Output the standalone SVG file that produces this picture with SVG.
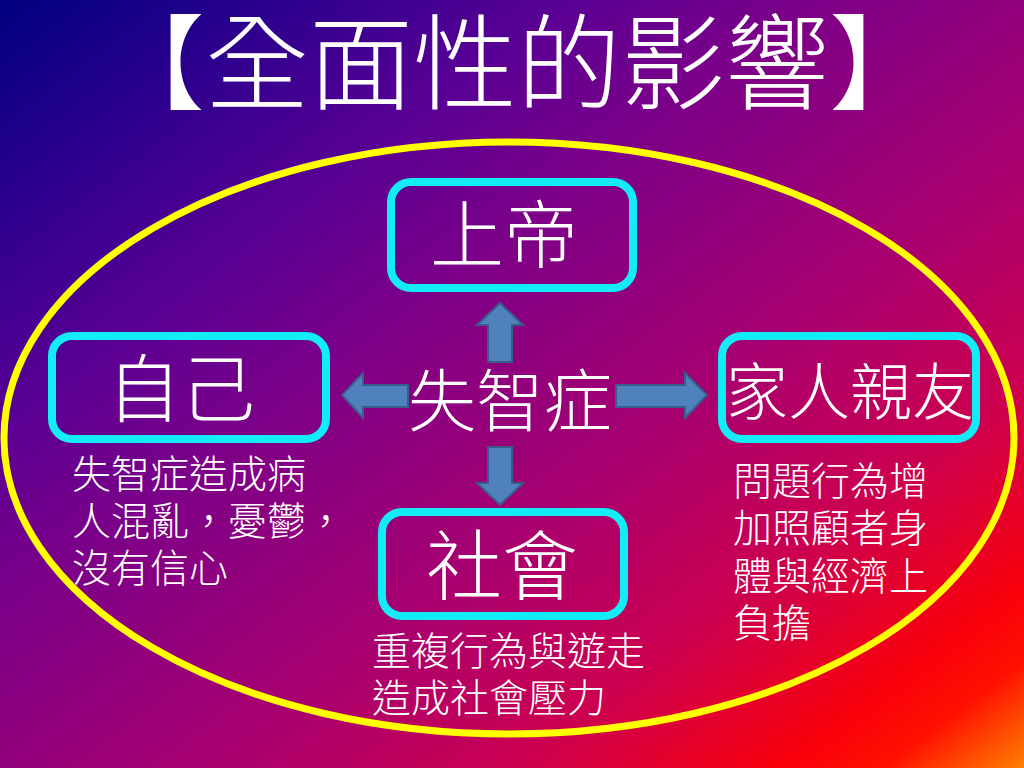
<svg xmlns="http://www.w3.org/2000/svg" width="1024" height="768" viewBox="0 0 1024 768">
  <defs>
    <linearGradient id="bg" gradientUnits="objectBoundingBox" x1="0" y1="0" x2="1" y2="1">
      <stop offset="0" stop-color="#000080"/>
      <stop offset="0.15" stop-color="#30008e"/>
      <stop offset="0.28" stop-color="#5a0094"/>
      <stop offset="0.4" stop-color="#7c0088"/>
      <stop offset="0.6" stop-color="#a80070"/>
      <stop offset="0.75" stop-color="#cc0050"/>
      <stop offset="0.88" stop-color="#f8000c"/>
      <stop offset="0.93" stop-color="#ff1000"/>
      <stop offset="1" stop-color="#ff8000"/>
    </linearGradient>
    <style>
      .box { fill: none; stroke: #12ECF5; stroke-width: 8; }
      .arrow { fill: #4F81BD; stroke: #385D8A; stroke-width: 2; stroke-linejoin: miter; }
      .big { fill: #ffffff; font-family: "Noto Sans CJK TC", "Noto Sans CJK SC", sans-serif; font-weight: 300; text-anchor: middle; }
      .desc { fill: #ffffff; font-family: "Noto Sans CJK TC", "Noto Sans CJK SC", sans-serif; font-weight: 300; font-size: 39px; }
    </style>
  </defs>

  <rect x="0" y="0" width="1024" height="768" fill="url(#bg)"/>

  <ellipse id="frame" cx="509" cy="438" rx="505" ry="296" fill="none" stroke="#FFFF00" stroke-width="7"/>

  <g id="title">
    <text class="big" x="517" y="102" font-size="104">【全面性的影響】</text>
  </g>

  <g id="connectors">
    <polygon class="arrow" points="488,362 488,325 477,325 500,303 523,325 512,325 512,362"/>
    <polygon class="arrow" points="488,447 512,447 512,483 523,483 500,505 477,483 488,483"/>
    <polygon class="arrow" points="408,385 363,385 363,373 342,395 363,418 363,407 408,407"/>
    <polygon class="arrow" points="616,385 685,385 685,373 707,395 685,418 685,407 616,407"/>
  </g>

  <g id="center">
    <text class="big" x="510" y="426" font-size="68">失智症</text>
  </g>

  <g id="god">
    <rect class="box" x="391" y="182" width="242" height="106" rx="20"/>
    <text class="big" x="504" y="262" font-size="74">上帝</text>
  </g>

  <g id="self">
    <rect class="box" x="52" y="336" width="274" height="103" rx="20"/>
    <text class="big" x="181" y="416" font-size="74">自己</text>
    <text class="desc" x="72" y="488">失智症造成病<tspan x="72" dy="47">人混亂，憂鬱，</tspan><tspan x="72" dy="47">沒有信心</tspan></text>
  </g>

  <g id="family">
    <rect class="box" x="722" y="336" width="254" height="103" rx="20"/>
    <text class="big" x="850" y="415" font-size="62">家人親友</text>
    <text class="desc" x="733" y="495">問題行為增<tspan x="733" dy="47">加照顧者身</tspan><tspan x="733" dy="48">體與經濟上</tspan><tspan x="733" dy="47">負擔</tspan></text>
  </g>

  <g id="society">
    <rect class="box" x="382" y="512" width="242" height="104" rx="20"/>
    <text class="big" x="502" y="594" font-size="76">社會</text>
    <text class="desc" x="372" y="665">重複行為與遊走<tspan x="372" dy="47">造成社會壓力</tspan></text>
  </g>
</svg>
